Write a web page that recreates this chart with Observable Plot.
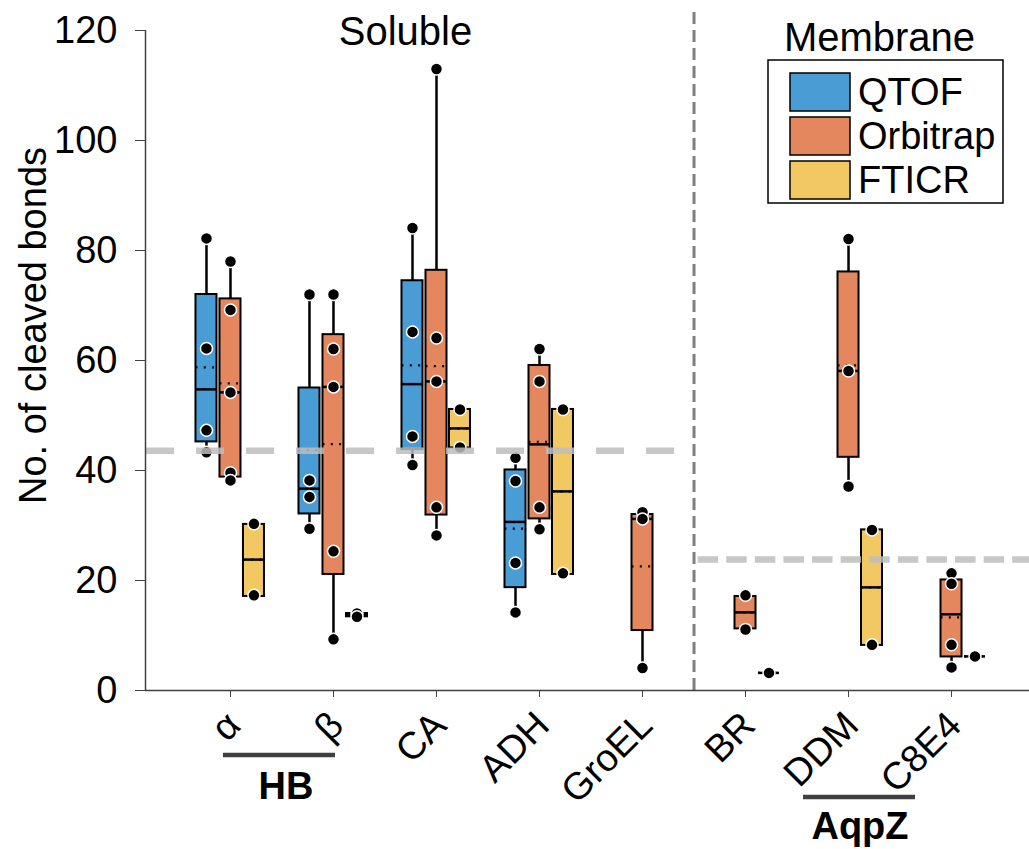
<!DOCTYPE html>
<html><head><meta charset="utf-8">
<script src="https://cdn.jsdelivr.net/npm/d3@7"></script>
<script src="https://cdn.jsdelivr.net/npm/@observablehq/plot@0.6"></script>
<style>body{margin:0;background:#fff} #chart{width:1029px;height:849px}</style>
</head><body><div id="chart"></div>
<script>
// ---------- data ----------
const categories = ["α", "β", "CA", "ADH", "GroEL", "BR", "DDM", "C8E4"];
const instruments = ["QTOF", "Orbitrap", "FTICR"];
const instrumentColors = ["#4a9cd4", "#e5875e", "#f2c862"];

// individual replicate values (null = not measured)
const qtofPoints = [[82.2, 62.2, 47.3, 43.3], [72.0, 38.2, 35.2, 29.4], [84.1, 65.2, 46.2, 41.0], [42.3, 38.1, 23.2, 14.2], null, null, null, null];
const orbitrapPoints = [[78.0, 69.2, 54.2, 39.6, 38.2], [72.0, 62.1, 55.2, 25.3, 9.3], [113.0, 64.1, 56.2, 33.3, 28.2], [62.1, 56.2, 33.3, 29.3], [32.4, 31.2, 4.1], [17.3, 11.1], [82.1, 58.1, 37.1], [21.3, 19.4, 8.3, 4.2]];
const fticrPoints = [[30.3, 17.3], [14.0, 13.4], [51.1, 44.2], [51.1, 21.3], null, [3.2], [29.2, 8.3], [6.2]];

// box lower / upper quartiles as drawn
const qtofQ1 = [45.2, 32.1, 43.8, 18.7, null, null, null, null];
const qtofQ3 = [72.0, 55.0, 74.5, 40.1, null, null, null, null];
const orbitrapQ1 = [38.8, 21.1, 31.9, 31.2, 10.9, 11.2, 42.4, 6.1];
const orbitrapQ3 = [71.2, 64.7, 76.4, 59.1, 32.0, 17.1, 76.1, 20.1];
const fticrQ1 = [17.1, 13.4, 44.1, 21.1, null, 3.2, 8.2, 6.2];
const fticrQ3 = [30.2, 14.0, 51.1, 51.1, null, 3.2, 29.2, 6.2];

// sections and their reference (average) lines
const sectionNames = ["Soluble", "Membrane"];
const sectionMeans = [43.6, 23.8];

// protein groups annotated under the axis
const groupNames = ["HB", "AqpZ"];
const groupFrom = ["α", "DDM"];
const groupTo = ["β", "C8E4"];

const yTicks = [0, 20, 40, 60, 80, 100, 120];

// ---------- build tables ----------
const pointsBy = [qtofPoints, orbitrapPoints, fticrPoints];
const q1By = [qtofQ1, orbitrapQ1, fticrQ1];
const q3By = [qtofQ3, orbitrapQ3, fticrQ3];
const offsets = [-0.233, 0, 0.228];   // dodge within a category (layout)
const hw = 0.102;                     // half box width (layout)
const boxes = [], dots = [];
instruments.forEach((inst, k) => categories.forEach((cat, i) => {
  const pts = pointsBy[k][i];
  if (!pts) return;
  const xc = i + offsets[k];
  boxes.push({inst, xc, q1: q1By[k][i], q3: q3By[k][i], lo: d3.min(pts), hi: d3.max(pts), med: d3.median(pts), mean: d3.mean(pts)});
  pts.forEach(v => dots.push({inst, xc, v}));
}));

const xMin = -0.825, xMax = 7.757, divider = 4.5;
const font = "Liberation Sans, Arial, Helvetica, sans-serif";

const plot = Plot.plot({
  width: 1029, height: 849,
  marginLeft: 145, marginRight: 0, marginTop: 30, marginBottom: 159,
  x: {domain: [xMin, xMax], axis: null},
  y: {domain: [0, 120], axis: null},
  color: {domain: instruments, range: instrumentColors},
  style: {fontFamily: font, background: "white", overflow: "visible", color: "black"},
  marks: [
    Plot.ruleX([divider], {y1: 0, y2: 123.6, stroke: "#7f7f7f", strokeWidth: 3, strokeDasharray: "12,6"}),
    Plot.ruleX(boxes, {x: "xc", y1: "lo", y2: "hi", stroke: "black", strokeWidth: 2.5}),
    Plot.rect(boxes.filter(d => d.q3 > d.q1), {x1: d => d.xc - hw, x2: d => d.xc + hw, y1: "q1", y2: "q3", fill: "inst", stroke: "black", strokeWidth: 2}),
    Plot.ruleY(boxes, {y: "med", x1: d => d.xc - hw, x2: d => d.xc + hw, stroke: "black", strokeWidth: 2.5}),
    Plot.ruleY(boxes, {y: "mean", x1: d => d.xc - hw, x2: d => d.xc + hw, stroke: "black", strokeWidth: 2.2, strokeDasharray: "2,6.3"}),
    Plot.dot(dots, {x: "xc", y: "v", r: 6, fill: "black", stroke: "white", strokeWidth: 1.5}),
    Plot.ruleY([sectionMeans[0]], {x1: xMin + 0.01, x2: divider - 0.03, stroke: "#bdbdbd", strokeOpacity: 0.85, strokeWidth: 6.5, strokeDasharray: "28,22"}),
    Plot.ruleY([sectionMeans[1]], {x1: divider + 0.04, x2: xMax, stroke: "#bdbdbd", strokeOpacity: 0.85, strokeWidth: 6.5, strokeDasharray: "20.5,8.1"}),
    Plot.ruleY([0], {stroke: "#404040", strokeWidth: 1.5}),
    Plot.ruleX([xMin], {stroke: "#404040", strokeWidth: 1.5}),
    Plot.axisY({ticks: yTicks, tickSize: 10, tickPadding: 18, fontSize: 38, label: null, stroke: "#404040", tickFormat: d => d}),
    Plot.axisX({ticks: d3.range(categories.length), tickSize: 7, tickFormat: () => "", label: null, stroke: "#404040"}),
    Plot.text(categories, {x: (d, i) => i, y: 0, text: d => d, rotate: -45, textAnchor: "end", lineAnchor: "bottom", dx: 12, dy: 37, fontSize: 38, fill: "black"}),
    Plot.text(["No. of cleaved bonds"], {frameAnchor: "left", text: d => d, rotate: -90, textAnchor: "middle", lineAnchor: "bottom", dx: -100, dy: -35, fontSize: 38, fill: "black"}),
    Plot.text([sectionNames[0]], {frameAnchor: "top-left", text: d => d, textAnchor: "middle", lineAnchor: "bottom", dx: 260, dy: 14, fontSize: 40, fill: "black"}),
    Plot.text([sectionNames[1]], {frameAnchor: "top-left", text: d => d, textAnchor: "middle", lineAnchor: "bottom", dx: 734, dy: 20, fontSize: 40, fill: "black"})
  ]
});

// ---------- annotations in pixel layout using the plot's x scale ----------
const sx = plot.scale("x");
const svg = d3.select(plot);
const ann = svg.append("g").attr("font-family", font);
const barShift = [[-7, 2], [-45, -36]];
const barY = [755, 797];
const labelShift = [7, 1];
const labelBase = [799, 839];
groupNames.forEach((g, j) => {
  const a = sx.apply(categories.indexOf(groupFrom[j])) + barShift[j][0];
  const b = sx.apply(categories.indexOf(groupTo[j])) + barShift[j][1];
  ann.append("line").attr("x1", a).attr("x2", b).attr("y1", barY[j]).attr("y2", barY[j])
    .attr("stroke", "#404040").attr("stroke-width", 4.5);
  ann.append("text").attr("x", (a + b) / 2 + labelShift[j]).attr("y", labelBase[j])
    .attr("text-anchor", "middle").attr("font-weight", "bold").attr("font-size", 38).attr("fill", "black").text(g);
});

// legend
const lg = svg.append("g").attr("font-family", font);
lg.append("rect").attr("x", 768).attr("y", 60).attr("width", 235).attr("height", 143)
  .attr("fill", "white").attr("stroke", "black").attr("stroke-width", 1.5);
instruments.forEach((inst, k) => {
  const cy = 92 + k * 44;
  lg.append("rect").attr("x", 790).attr("y", cy - 19).attr("width", 60).attr("height", 38)
    .attr("fill", instrumentColors[k]).attr("stroke", "black").attr("stroke-width", 1.5);
  lg.append("text").attr("x", 858).attr("y", cy + 13).attr("text-anchor", "start")
    .attr("font-size", 38).attr("fill", "black").text(inst);
});

document.getElementById("chart").appendChild(plot);
</script>
</body></html>
